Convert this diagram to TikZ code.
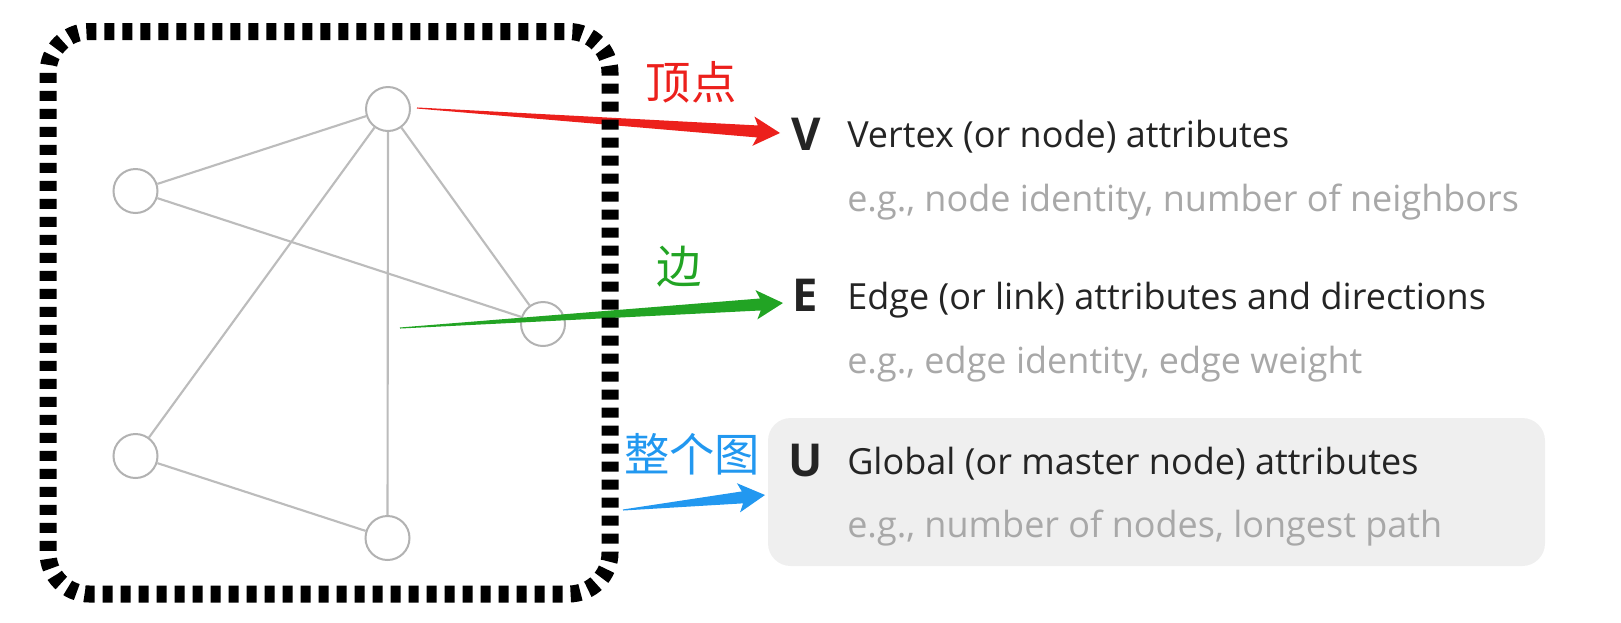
\documentclass[tikz,border=0pt]{standalone}
\usepackage{fontspec}
\setmainfont{Open Sans}
\newfontfamily\cjk{Noto Sans CJK SC}
\usetikzlibrary{calc}
\definecolor{edgegray}{RGB}{188,188,188}
\definecolor{nodegray}{RGB}{178,178,178}
\definecolor{textdark}{RGB}{36,36,36}
\definecolor{textgray}{RGB}{168,168,168}
\definecolor{boxgray}{RGB}{239,239,239}
\definecolor{arrred}{RGB}{236,32,28}
\definecolor{arrgreen}{RGB}{34,164,36}
\definecolor{arrblue}{RGB}{34,152,240}
\newcommand\taperarrow[3]{%
  \coordinate (hbase) at ($(#2)!17pt!(#1)$);
  \coordinate (hback) at ($(#2)!20pt!(#1)$);
  \fill[#3] ($(#1)!0.4pt!90:(#2)$) -- ($(hbase)!4.5pt!90:(#2)$) -- ($(hback)!11pt!90:(#2)$) -- (#2)
    -- ($(hback)!11pt!-90:(#2)$) -- ($(hbase)!4.5pt!-90:(#2)$) -- ($(#1)!0.4pt!-90:(#2)$) -- cycle;
}
\begin{document}
\begin{tikzpicture}[x=0.75pt,y=-0.75pt,
  vert/.style={circle, draw=nodegray, line width=1.5pt, inner sep=0pt, minimum size=33pt, fill=white},
  gedge/.style={draw=edgegray, line width=1.6pt},
  maintext/.style={anchor=base west, inner sep=0pt, text=textdark, font=\fontsize{27}{32}\selectfont},
  subtext/.style={anchor=base west, inner sep=0pt, text=textgray, font=\fontsize{27}{32}\selectfont},
  letter/.style={anchor=base, inner sep=0pt, text=textdark, font=\fontsize{34}{40}\selectfont\bfseries},
  cjklabel/.style={anchor=center, inner sep=0pt, font=\cjk\fontsize{34}{40}\selectfont},
  dashbox/.style={draw=black, line width=12.75pt, dash pattern=on 7.5pt off 6pt, rounded corners=31pt}]
\useasboundingbox (0,0) rectangle (1621,622);
% global box
\fill[boxgray, rounded corners=17pt] (768,418) rectangle (1545,566);
% graph
\node[vert] (top) at (388,109) {};
\node[vert] (left) at (135.5,191) {};
\node[vert] (right) at (543,324) {};
\node[vert] (bl) at (135.5,456) {};
\node[vert] (bot) at (387.5,538) {};
\draw[gedge] (top) -- (left);
\draw[gedge] (top) -- (bl);
\draw[gedge] (top) -- (bot);
\draw[gedge] (top) -- (right);
\draw[gedge] (left) -- (right);
\draw[gedge] (bl) -- (bot);
% arrows
\coordinate (rtail) at (417,108);
\coordinate (rtip) at (780,133);
\coordinate (gtail) at (400,328);
\coordinate (gtip) at (783,303);
\coordinate (btail) at (623,510);
\coordinate (btip) at (765,495);
\taperarrow{rtail}{rtip}{arrred}
\taperarrow{gtail}{gtip}{arrgreen}
\taperarrow{btail}{btip}{arrblue}
% dashed frame
\draw[dashbox] (48,31.5) rectangle (610,594);
% labels
\node[cjklabel, text=arrred] (lv) at (691,82) {顶点};
\node[cjklabel, text=arrgreen] (le) at (679,267) {边};
\node[cjklabel, text=arrblue] (lu) at (692,454) {整个图};
% right-hand text
\node[letter] (V) at (806,150) {V};
\node[maintext] (vt) at (847,147) {Vertex (or node) attributes};
\node[subtext] (vs) at (847,211) {e.g., node identity, number of neighbors};
\node[letter] (E) at (805,311) {E};
\node[maintext] (et) at (847,309) {Edge (or link) attributes and directions};
\node[subtext] (es) at (847,373) {e.g., edge identity, edge weight};
\node[letter] (U) at (806,476) {U};
\node[maintext] (ut) at (847,474) {Global (or master node) attributes};
\node[subtext] (us) at (847,537) {e.g., number of nodes, longest path};
\end{tikzpicture}
\end{document}
